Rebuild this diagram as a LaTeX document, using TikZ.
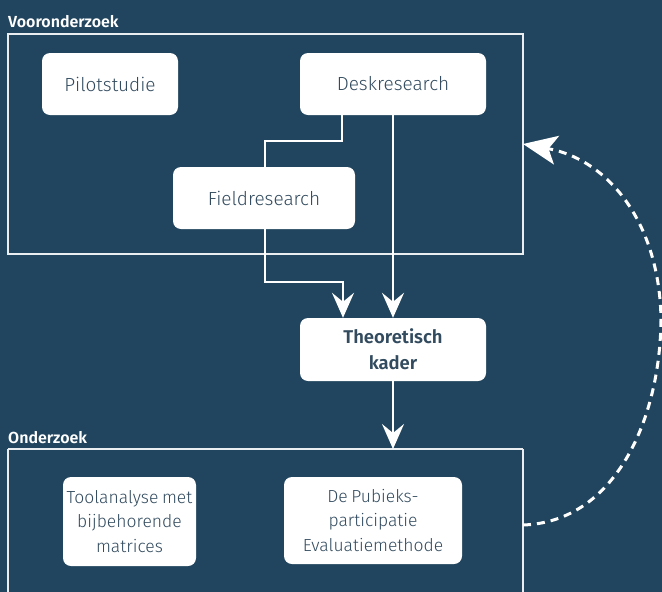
\documentclass[tikz,border=0pt]{standalone}
\usepackage{fontspec}
\setmainfont{Fira Sans Light}[BoldFont=Fira Sans SemiBold,WordSpace=0.75]
\usetikzlibrary{arrows.meta}
\definecolor{bg}{RGB}{33,69,94}
\definecolor{txt}{RGB}{50,75,95}
\definecolor{frame}{RGB}{235,238,240}
\begin{document}
\begin{tikzpicture}[x=1pt,y=-1pt,
  stepbox/.style={draw=none,fill=white,rounded corners=8pt,text=txt,font=\fontsize{19}{24.5}\selectfont,align=center,inner sep=0pt},
  multi/.style={font=\fontsize{17.5}{24.5}\selectfont},
  grp/.style={draw=frame,line width=1.3pt},
  conn/.style={draw=white,line width=1.8pt},
  tip/.style={-{Stealth[length=25pt,width=22pt,inset=9pt]}},
  lbl/.style={text=white,font=\bfseries\fontsize{16}{20}\selectfont,anchor=base west,inner sep=0pt}]
\fill[bg] (0,0) rectangle (662,592);
\useasboundingbox (0,0) rectangle (662,592);
% groups
\node[lbl] (l1) at (8,27) {Vooronderzoek};
\draw[grp] (8,34) rectangle (523,254);
\coordinate (g1e) at (523,144);
\node[lbl] (l2) at (8,443) {Onderzoek};
\draw[grp] (8,449) -- (8,600) (523,449) -- (523,600) (8,449) -- (523,449);
\coordinate (g2e) at (523,525);
\coordinate (g2t) at (393,449);
% boxes
\node[stepbox,minimum width=136pt,minimum height=62pt] (pilot) at (110,84) {Pilotstudie};
\node[stepbox,minimum width=186pt,minimum height=62pt] (desk) at (393,84) {Deskresearch};
\node[stepbox,minimum width=182pt,minimum height=62pt] (field) at (264,198) {Fieldresearch};
\node[stepbox,minimum width=186pt,minimum height=63pt,font=\bfseries\fontsize{18.5}{26}\selectfont] (theo) at (393,349.5) {Theoretisch\\kader};
\node[stepbox,multi,minimum width=133pt,minimum height=89pt] (tool) at (129.5,521.5) {Toolanalyse met\\bijbehorende\\matrices};
\node[stepbox,multi,minimum width=178pt,minimum height=87pt] (pub) at (373,520.5) {De Pubieks-\\participatie\\Evaluatiemethode};
% connectors
\draw[conn] (desk.south -| 342,0) -- (342,141) -- (265,141) -- (field.north -| 265,0);
\draw[conn,tip] (field.south -| 265,0) -- (265,282) -- (343,282) -- (theo.north -| 343,0);
\draw[conn,tip] (desk.south) -- (theo.north);
\draw[conn,tip] (theo.south) -- (g2t);
\draw[white,line width=3pt,dash pattern=on 8pt off 6pt,-{Stealth[length=34pt,width=29pt,inset=8pt]}]
  (g2e) .. controls (615,522) and (660,420) .. (661,320)
        .. controls (660,225) and (610,160) .. (g1e);
\end{tikzpicture}
\end{document}
